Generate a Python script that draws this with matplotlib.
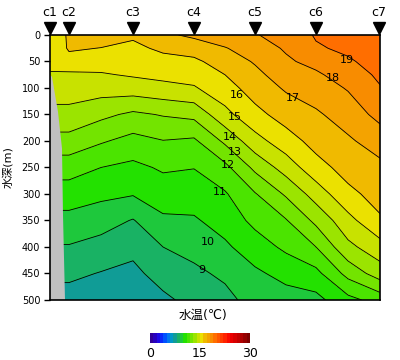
import numpy as np
import matplotlib
matplotlib.use("Agg")
import matplotlib.pyplot as plt
import matplotlib.transforms as mtransforms

plt.rcParams['font.family'] = ['DejaVu Sans', 'Noto Sans CJK JP']

# 観測点
stations = ["c1", "c2", "c3", "c4", "c5", "c6", "c7"]
station_x = [0, 19, 83, 144, 205, 266, 329]

# 水温の格子 (列 = 距離, 行 = 水深)
grid_x = [0, 19, 51, 83, 113, 144, 175, 205, 236, 266, 298, 330]
depth = [0, 25, 50, 75, 100, 150, 200, 250, 300, 350, 400, 450, 500]
t_c1 = [15.85, 15.3, 15.15, 14.95, 14.47, 13.71, 12.64, 11.44, 10.5, 9.69, 8.93, 8.21, 7.6]
t_c2 = [16.03, 16.1, 15.7, 14.8, 14.47, 13.71, 12.64, 11.44, 10.5, 9.69, 8.93, 8.21, 7.6]
t_c23 = [16.4, 15.98, 15.43, 14.91, 14.44, 13.24, 12.11, 11.0, 10.23, 9.42, 8.64, 7.95, 7.5]
t_c3 = [16.15, 15.78, 15.44, 15.10, 14.51, 12.81, 11.67, 10.76, 10.07, 8.94, 8.25, 7.77, 7.4]
t_c34 = [16.8, 16.18, 15.69, 15.26, 14.71, 13.07, 11.97, 11.13, 10.49, 9.83, 9.0, 8.38, 7.8]
t_c4 = [17.2, 16.43, 15.80, 15.37, 14.91, 13.28, 11.83, 11.03, 10.45, 9.89, 9.32, 8.79, 8.3]
t_c45 = [17.6, 16.94, 16.47, 16.0, 15.60, 14.71, 13.2, 11.73, 10.90, 10.39, 9.84, 9.19, 8.7]
t_c5 = [17.95, 17.52, 17.09, 16.75, 16.44, 15.7, 14.63, 13.24, 11.93, 11.27, 10.5, 9.83, 9.4]
t_c56 = [18.3, 18.11, 17.85, 17.49, 17.12, 16.42, 15.56, 14.44, 13.14, 11.93, 11.21, 10.3, 9.6]
t_c6 = [19.1, 18.88, 18.30, 17.84, 17.49, 16.86, 16.35, 15.63, 14.44, 13.25, 12.0, 10.71, 9.7]
t_c67 = [19.5, 19.2, 18.87, 18.48, 18.08, 17.44, 16.86, 16.38, 15.75, 14.67, 13.75, 12.33, 10.7]
t_c7 = [19.85, 19.63, 19.40, 19.18, 18.94, 18.31, 17.44, 16.76, 16.37, 15.87, 14.6, 13.5, 11.4]

# 等温線ラベル
label_text = ["19", "18", "17", "16", "15", "14", "13", "12", "11", "10", "9"]
label_x = [297, 283, 243, 187, 185, 180, 185, 178, 170, 158, 152]
label_depth = [47, 81, 119, 113, 155, 192, 221, 245, 296, 390, 443]

# 陸地 (灰色)
land_x = [0, 0, 15, 14, 13, 12, 8, 2]
land_depth = [75, 500, 500, 420, 340, 214, 145, 79]

# 0-30℃ のカラー (1℃ごと)
band_colors = [
    (48, 0, 150), (40, 0, 190), (30, 10, 230), (10, 40, 250), (0, 80, 255),
    (0, 120, 240), (0, 150, 200), (16, 156, 150), (25, 178, 100), (30, 200, 60),
    (35, 225, 0), (75, 228, 0), (115, 228, 0), (155, 228, 0), (200, 226, 0),
    (235, 225, 0), (240, 186, 0), (244, 163, 0), (248, 140, 0), (255, 110, 0),
    (255, 85, 0), (255, 60, 0), (255, 35, 0), (250, 10, 0), (235, 0, 0),
    (215, 0, 0), (195, 0, 0), (175, 0, 0), (150, 0, 0), (125, 0, 0)]
band_colors = [(r / 255, g / 255, b / 255) for r, g, b in band_colors]

temp = np.array([t_c1, t_c2, t_c23, t_c3, t_c34, t_c4, t_c45, t_c5,
                 t_c56, t_c6, t_c67, t_c7]).T
X, D = np.meshgrid(grid_x, depth)

fig = plt.figure(figsize=(4, 3.6), dpi=100)
ax = fig.add_axes([0.125, 0.1667, 0.825, 0.7361])

cf = ax.contourf(X, D, temp, levels=np.arange(0, 31, 1), colors=band_colors)
ax.contour(X, D, temp, levels=np.arange(8, 20, 1), colors="black", linewidths=0.6)
ax.fill(land_x, land_depth, color="#c0c0c0", zorder=3, lw=0)

for t, x, d in zip(label_text, label_x, label_depth):
    ax.text(x, d, t, ha="center", va="center", fontsize=8, zorder=4)

ax.set_xlim(0, 330)
ax.set_ylim(500, 0)
ax.set_xticks([])
ax.set_yticks(np.arange(0, 501, 50))
ax.tick_params(axis="y", direction="out", length=4, width=1, labelsize=7, pad=3)
for s in ax.spines.values():
    s.set_linewidth(1.2)
    s.set_zorder(5)
ax.set_ylabel("水深(m)", fontsize=8, labelpad=6)

# 観測点の三角マーク
trans = mtransforms.blended_transform_factory(ax.transData, ax.transAxes)
ax.plot(station_x, [1.025] * len(station_x), "v", color="black", ms=8,
        transform=trans, clip_on=False)
for name, x in zip(stations, station_x):
    ax.text(x, 1.085, name, transform=trans, ha="center", va="center", fontsize=9)

fig.text(0.5075, 0.125, "水温(℃)", ha="center", va="center", fontsize=9)

cax = fig.add_axes([0.375, 0.0472, 0.25, 0.0278])
cb = fig.colorbar(cf, cax=cax, orientation="horizontal", ticks=[0, 15, 30])
cb.outline.set_visible(False)
cax.tick_params(length=0, labelsize=9, pad=3)

fig.savefig("out.png", dpi=100)
